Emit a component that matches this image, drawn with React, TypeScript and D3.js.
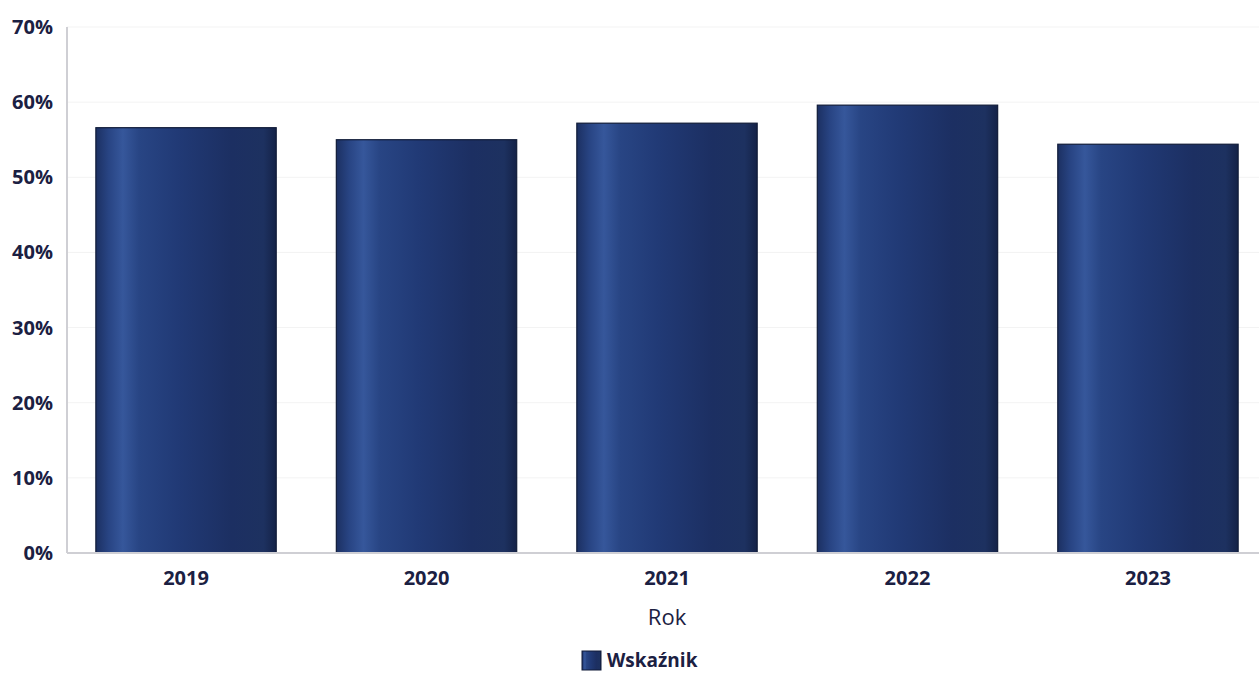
import React from "react";
import * as d3 from "d3";

const years = ["2019", "2020", "2021", "2022", "2023"];
const values = [56.6, 55.0, 57.2, 59.6, 54.4];
const yTicks = [0, 10, 20, 30, 40, 50, 60, 70];
const seriesName = "Wskaźnik";
const xTitle = "Rok";

const W = 1259;
const H = 673;
const left = 67;
const top = 27;
const bottom = 553;

export default function App() {
  const x = d3
    .scaleBand<string>()
    .domain(years)
    .range([left, 1267])
    .paddingInner(0.25)
    .paddingOuter(0.12);
  const y = d3.scaleLinear().domain([0, 70]).range([bottom, top]);
  const textColor = "#1b2042";
  const font = "'Open Sans', sans-serif";

  return (
    <svg
      width={W}
      height={H}
      style={{ position: "absolute", left: 0, top: 0, background: "#fff" }}
      fontFamily={font}
    >
      <defs>
        <linearGradient id="barGrad" x1="0" x2="1" y1="0" y2="0">
          <stop offset="0" stopColor="#1c3062" />
          <stop offset="0.07" stopColor="#284483" />
          <stop offset="0.15" stopColor="#36579b" />
          <stop offset="0.24" stopColor="#284584" />
          <stop offset="0.45" stopColor="#213a76" />
          <stop offset="0.75" stopColor="#1c2f62" />
          <stop offset="0.93" stopColor="#1d3160" />
          <stop offset="1" stopColor="#142247" />
        </linearGradient>
      </defs>

      {yTicks.map((t) => (
        <line
          key={"g" + t}
          x1={left}
          x2={W}
          y1={y(t)}
          y2={y(t)}
          stroke="#f3f3f3"
          strokeWidth={1}
        />
      ))}

      {years.map((yr, i) => (
        <rect
          key={yr}
          x={x(yr)}
          y={y(values[i])}
          width={x.bandwidth()}
          height={y(0) - y(values[i])}
          fill="url(#barGrad)"
          stroke="#101b38"
          strokeWidth={1.2}
        />
      ))}

      <line x1={left} x2={left} y1={top} y2={bottom} stroke="#cfcfd4" strokeWidth={2} />
      <line x1={left} x2={W} y1={bottom} y2={bottom} stroke="#cfcfd4" strokeWidth={2} />

      {yTicks.map((t) => (
        <text
          key={"t" + t}
          x={53}
          y={y(t)}
          dy="0.35em"
          textAnchor="end"
          fontSize={20}
          fontWeight={700}
          fill={textColor}
        >
          {t + "%"}
        </text>
      ))}

      {years.map((yr) => (
        <text
          key={"x" + yr}
          x={(x(yr) as number) + x.bandwidth() / 2}
          y={578}
          dy="0.35em"
          textAnchor="middle"
          fontSize={20}
          fontWeight={700}
          fill={textColor}
        >
          {yr}
        </text>
      ))}

      <text
        x={667}
        y={617}
        dy="0.35em"
        textAnchor="middle"
        fontSize={22}
        fill={textColor}
      >
        {xTitle}
      </text>

      <rect x={582} y={651} width={19} height={19} fill="url(#barGrad)" stroke="#101b38" strokeWidth={1} />
      <text x={607} y={660} dy="0.35em" fontSize={19} fontWeight={700} fill={textColor}>
        {seriesName}
      </text>
    </svg>
  );
}
